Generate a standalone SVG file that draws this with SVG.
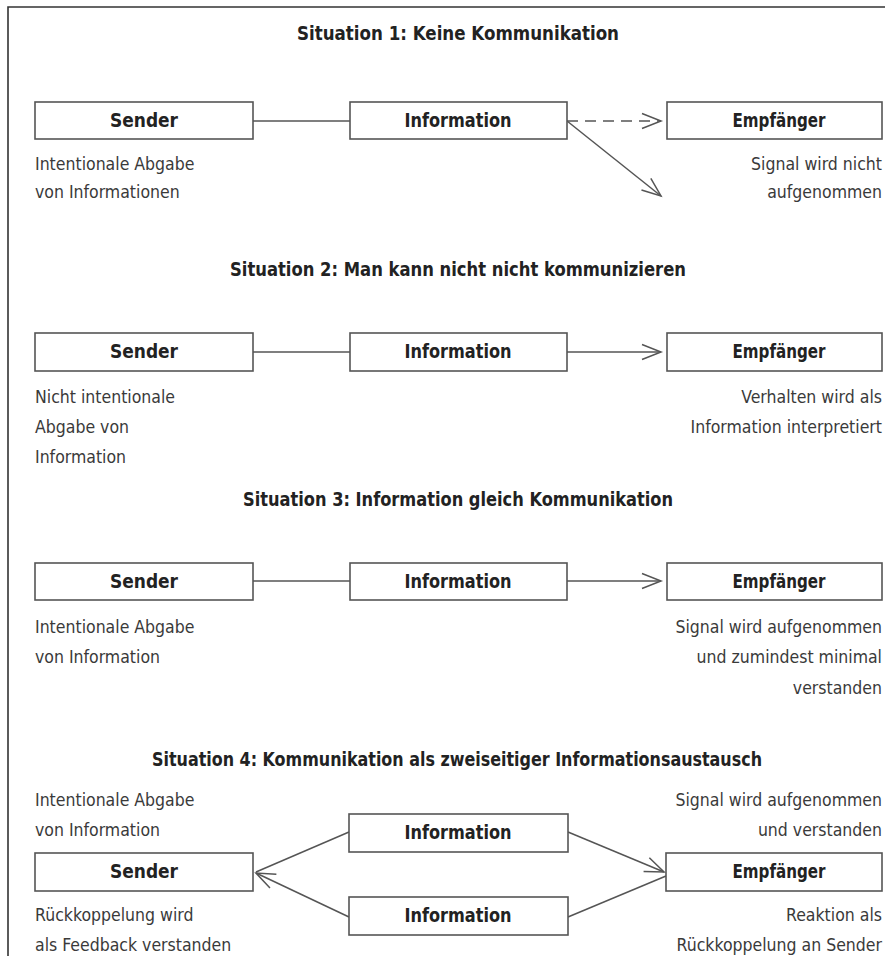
<svg xmlns="http://www.w3.org/2000/svg" width="885" height="956" viewBox="0 0 885 956">
<defs>
<style>
.bg{fill:#ffffff}
.frame{fill:none;stroke:#333333;stroke-width:1.6}
.box{fill:#ffffff;stroke:#555555;stroke-width:1.6}
.ln{fill:none;stroke:#555555;stroke-width:1.5}
.dash{stroke-dasharray:11 7}
.t{font-family:"Liberation Sans Narrow","DejaVu Sans Condensed","Liberation Sans",Arial,sans-serif;fill:#222222}
.title{font-size:19px;font-weight:bold;text-anchor:middle}
.lab{font-size:19px;font-weight:bold;text-anchor:middle}
.body{font-size:17.5px;fill:#3a3a3a}
.r{text-anchor:end}
</style>
<marker id="arr" markerUnits="userSpaceOnUse" markerWidth="24" markerHeight="20" viewBox="-20 -10 24 20" refX="0" refY="0" orient="auto">
<path d="M -19 -7.5 L 0 0 L -19 7.5" fill="none" stroke="#555555" stroke-width="1.5"/>
</marker>
</defs>
<rect class="bg" x="0" y="0" width="885" height="956"/>
<path class="frame" d="M 8 956 V 7 H 885"/>

<g id="connectors">
<line class="ln" x1="253" y1="121" x2="350" y2="121"/>
<line class="ln dash" x1="567" y1="121" x2="661" y2="121" marker-end="url(#arr)"/>
<line class="ln" x1="567" y1="121" x2="661" y2="196" marker-end="url(#arr)"/>
<line class="ln" x1="253" y1="352" x2="350" y2="352"/>
<line class="ln" x1="567" y1="352" x2="661" y2="352" marker-end="url(#arr)"/>
<line class="ln" x1="253" y1="581" x2="350" y2="581"/>
<line class="ln" x1="567" y1="581" x2="661" y2="581" marker-end="url(#arr)"/>
<line class="ln" x1="349" y1="832" x2="256" y2="872"/>
<line class="ln" x1="349" y1="917" x2="256" y2="873" marker-end="url(#arr)"/>
<line class="ln" x1="568" y1="832" x2="664" y2="872" marker-end="url(#arr)"/>
<line class="ln" x1="568" y1="917" x2="666" y2="876"/>
</g>

<g id="titles">
<text class="t title" x="458" y="40" textLength="322" lengthAdjust="spacingAndGlyphs">Situation 1: Keine Kommunikation</text>
<text class="t title" x="458" y="276" textLength="456" lengthAdjust="spacingAndGlyphs">Situation 2: Man kann nicht nicht kommunizieren</text>
<text class="t title" x="458" y="506" textLength="430" lengthAdjust="spacingAndGlyphs">Situation 3: Information gleich Kommunikation</text>
<text class="t title" x="457" y="766" textLength="610" lengthAdjust="spacingAndGlyphs">Situation 4: Kommunikation als zweiseitiger Informationsaustausch</text>
</g>

<!-- Situation 1 -->
<g id="s1-sender">
<rect class="box" x="35" y="102" width="218" height="37"/>
<text class="t lab" x="144" y="127" textLength="68" lengthAdjust="spacingAndGlyphs">Sender</text>
<text class="t body" x="35" y="170">Intentionale Abgabe</text>
<text class="t body" x="35" y="198">von Informationen</text>
</g>
<g id="s1-information">
<rect class="box" x="350" y="102" width="217" height="37"/>
<text class="t lab" x="458" y="127" textLength="107" lengthAdjust="spacingAndGlyphs">Information</text>
</g>
<g id="s1-empfaenger">
<rect class="box" x="667" y="102" width="215" height="37"/>
<text class="t lab" x="779" y="127" textLength="93" lengthAdjust="spacingAndGlyphs">Empfänger</text>
<text class="t body r" x="882" y="170">Signal wird nicht</text>
<text class="t body r" x="882" y="198">aufgenommen</text>
</g>

<!-- Situation 2 -->
<g id="s2-sender">
<rect class="box" x="35" y="333" width="218" height="38"/>
<text class="t lab" x="144" y="358" textLength="68" lengthAdjust="spacingAndGlyphs">Sender</text>
<text class="t body" x="35" y="403">Nicht intentionale</text>
<text class="t body" x="35" y="433">Abgabe von</text>
<text class="t body" x="35" y="463">Information</text>
</g>
<g id="s2-information">
<rect class="box" x="350" y="333" width="217" height="38"/>
<text class="t lab" x="458" y="358" textLength="107" lengthAdjust="spacingAndGlyphs">Information</text>
</g>
<g id="s2-empfaenger">
<rect class="box" x="667" y="333" width="215" height="38"/>
<text class="t lab" x="779" y="358" textLength="93" lengthAdjust="spacingAndGlyphs">Empfänger</text>
<text class="t body r" x="882" y="403">Verhalten wird als</text>
<text class="t body r" x="882" y="433">Information interpretiert</text>
</g>

<!-- Situation 3 -->
<g id="s3-sender">
<rect class="box" x="35" y="563" width="218" height="37"/>
<text class="t lab" x="144" y="588" textLength="68" lengthAdjust="spacingAndGlyphs">Sender</text>
<text class="t body" x="35" y="633">Intentionale Abgabe</text>
<text class="t body" x="35" y="663">von Information</text>
</g>
<g id="s3-information">
<rect class="box" x="350" y="563" width="217" height="37"/>
<text class="t lab" x="458" y="588" textLength="107" lengthAdjust="spacingAndGlyphs">Information</text>
</g>
<g id="s3-empfaenger">
<rect class="box" x="667" y="563" width="215" height="37"/>
<text class="t lab" x="779" y="588" textLength="93" lengthAdjust="spacingAndGlyphs">Empfänger</text>
<text class="t body r" x="882" y="633">Signal wird aufgenommen</text>
<text class="t body r" x="882" y="663">und zumindest minimal</text>
<text class="t body r" x="882" y="694">verstanden</text>
</g>

<!-- Situation 4 -->
<g id="s4-sender">
<rect class="box" x="35" y="853" width="218" height="38"/>
<text class="t lab" x="144" y="878" textLength="68" lengthAdjust="spacingAndGlyphs">Sender</text>
<text class="t body" x="35" y="806">Intentionale Abgabe</text>
<text class="t body" x="35" y="836">von Information</text>
<text class="t body" x="35" y="921">Rückkoppelung wird</text>
<text class="t body" x="35" y="951">als Feedback verstanden</text>
</g>
<g id="s4-information-top">
<rect class="box" x="349" y="814" width="219" height="38"/>
<text class="t lab" x="458" y="839" textLength="107" lengthAdjust="spacingAndGlyphs">Information</text>
</g>
<g id="s4-information-bottom">
<rect class="box" x="349" y="897" width="219" height="38"/>
<text class="t lab" x="458" y="922" textLength="107" lengthAdjust="spacingAndGlyphs">Information</text>
</g>
<g id="s4-empfaenger">
<rect class="box" x="666" y="853" width="216" height="38"/>
<text class="t lab" x="779" y="878" textLength="93" lengthAdjust="spacingAndGlyphs">Empfänger</text>
<text class="t body r" x="882" y="806">Signal wird aufgenommen</text>
<text class="t body r" x="882" y="836">und verstanden</text>
<text class="t body r" x="882" y="921">Reaktion als</text>
<text class="t body r" x="882" y="951">Rückkoppelung an Sender</text>
</g>
</svg>
